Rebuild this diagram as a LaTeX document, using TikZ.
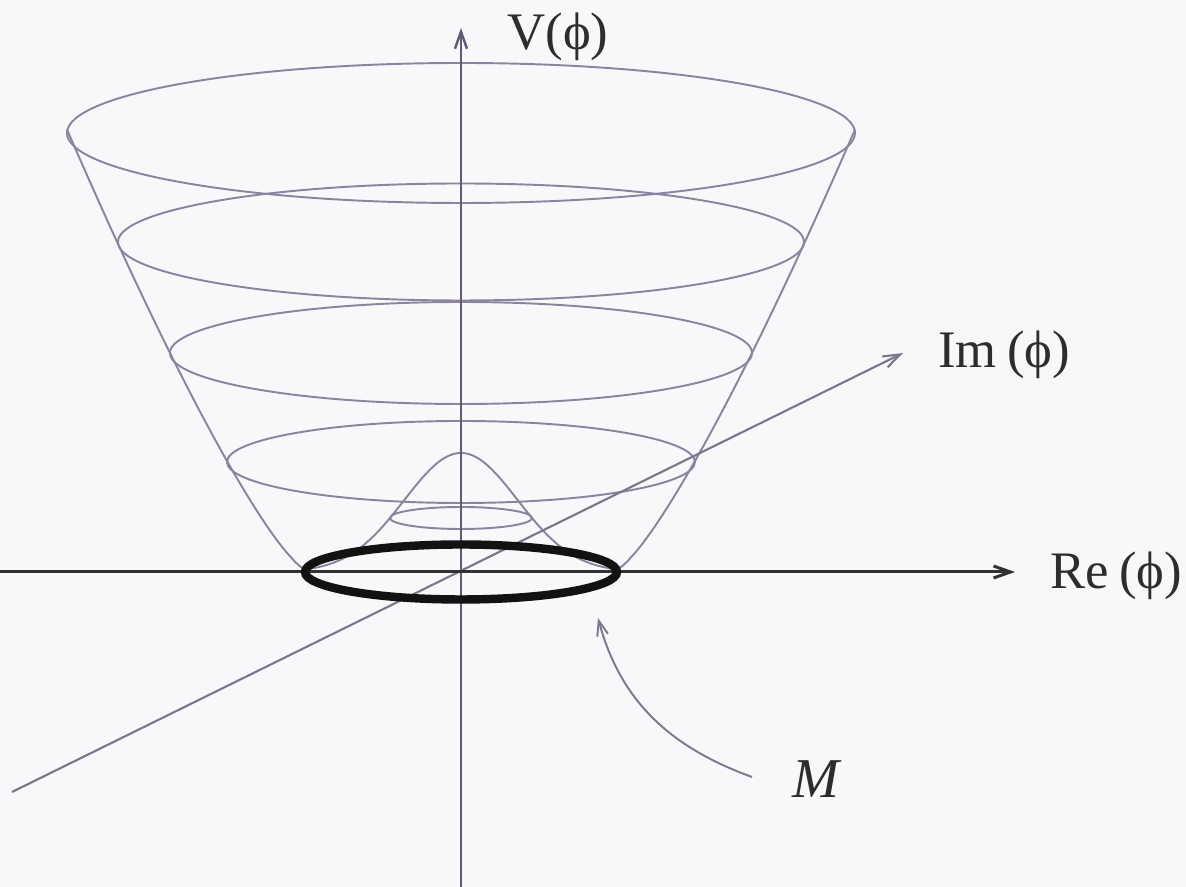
\documentclass[tikz,border=0pt]{standalone}
\usepackage{fontspec}
\setmainfont{Liberation Serif}
\usetikzlibrary{arrows.meta}
\definecolor{bgcol}{RGB}{248,248,250}
\definecolor{bowlcol}{RGB}{140,132,158}
\definecolor{vaxcol}{RGB}{100,90,115}
\definecolor{imaxcol}{RGB}{125,117,140}
\definecolor{reaxcol}{RGB}{50,50,52}
\definecolor{ringcol}{RGB}{18,18,18}
\definecolor{txtcol}{RGB}{45,45,48}
\newcommand{\myphi}{\symbol{"03D5}}
\tikzset{
  bowl/.style={draw=bowlcol, line width=0.55pt},
  axistip/.style={-{Straight Barb[length=1.7mm,width=1.2mm]}},
  lab/.style={text=txtcol, font=\fontsize{15}{18}\selectfont, inner sep=0pt},
}
\begin{document}
\begin{tikzpicture}[x=1cm,y=1cm]
\fill[bgcol] (-4.61,-3.15) rectangle (7.25,5.72);
\useasboundingbox (-4.61,-3.15) rectangle (7.25,5.72);

% level curves
\draw[bowl] (0,4.39) ellipse [x radius=3.94, y radius=0.70];
\draw[bowl] (0,3.30) ellipse [x radius=3.43, y radius=0.585];
\draw[bowl] (0,2.19) ellipse [x radius=2.91, y radius=0.51];
\draw[bowl] (0,1.10) ellipse [x radius=2.34, y radius=0.41];
\draw[bowl] (0,0.54) ellipse [x radius=0.71, y radius=0.11];

% profile (silhouette and central hump)
\draw[bowl] plot[domain=-3.94:3.94, samples=401]
  (\x, {1.19*exp(-(\x*\x)/0.638) + 1.51*pow(max(abs(\x)-1.56,0.0001),1.24)});

% axes
\coordinate (O) at (0,0);
\coordinate (vbot) at (0,-3.15);
\coordinate (vtop) at (0,5.44);
\coordinate (rel) at (-4.61,0);
\coordinate (rer) at (5.54,0);
\coordinate (iml) at (-4.49,-2.20);
\coordinate (imr) at (4.42,2.19);
\draw[draw=vaxcol, line width=0.7pt, axistip] (vbot) -- (vtop);
\draw[draw=imaxcol, line width=0.6pt, axistip] (iml) -- (imr);
\draw[draw=reaxcol, line width=0.85pt, axistip] (rel) -- (rer);

% vacuum manifold
\draw[draw=ringcol, line width=2.4pt] (O) ellipse [x radius=1.56, y radius=0.275];

% labels
\node[lab] (vlab) at (0.97,5.35) {V(\myphi)};
\node[lab] (imlab) at (5.43,2.17) {Im\hspace{0.2em}(\myphi)};
\node[lab] (relab) at (6.55,-0.04) {Re\hspace{0.2em}(\myphi)};
\node[lab, font=\fontsize{16}{19}\selectfont] (mlab) at (3.55,-2.07) {\itshape M};

\coordinate (mtail) at (2.91,-2.05);
\coordinate (mhead) at (1.37,-0.46);
\draw[draw=bowlcol!90!black, line width=0.55pt, -{Straight Barb[length=1.5mm,width=1.1mm]}]
  (mtail) to[out=160, in=-75] (mhead);
\end{tikzpicture}
\end{document}
